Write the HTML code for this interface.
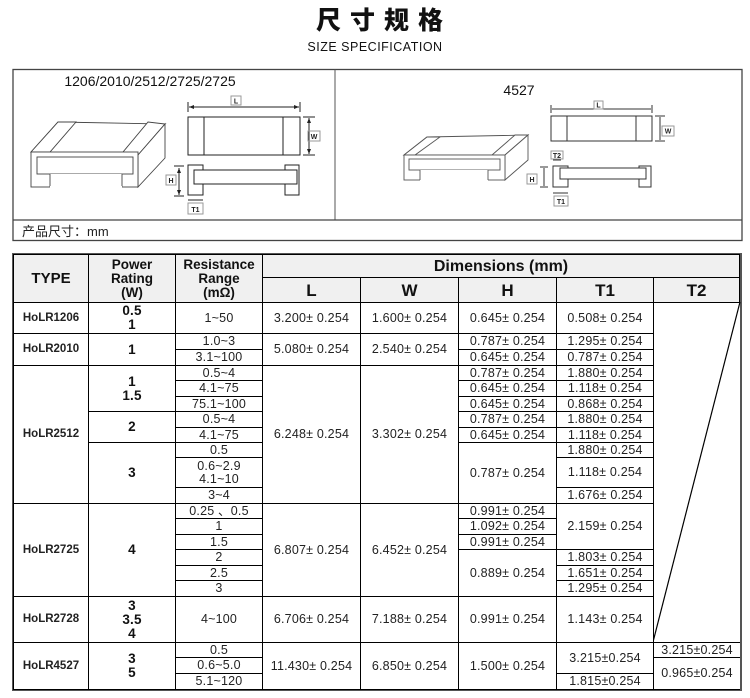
<!DOCTYPE html>
<html><head><meta charset="utf-8"><style>
body{margin:0;width:750px;height:698px;background:#fff;position:relative;overflow:hidden;font-family:"Liberation Sans","Noto Sans CJK SC",sans-serif;color:#111}
.a{position:absolute}
.c{position:absolute;box-sizing:border-box;border:1px solid #000;display:flex;align-items:center;justify-content:center;text-align:center;font-size:12.5px;line-height:13px;color:#222;background:#fff;white-space:nowrap;letter-spacing:0.2px}
.h{background:#f0f0f0;font-weight:bold;color:#111;letter-spacing:0}
.t{font-weight:bold;font-size:11.5px;color:#222;letter-spacing:0}
.p{font-weight:bold;font-size:13.5px;line-height:14px;color:#111}
</style></head><body>
<div class="a" style="left:0;width:750px;top:4px;text-align:center;font-size:25px;font-weight:900;letter-spacing:9px;font-family:'Noto Sans CJK SC',sans-serif;line-height:30px;padding-left:9px">尺寸规格</div>
<div class="a" style="left:0;width:750px;top:40px;text-align:center;font-size:12.5px;letter-spacing:0.5px">SIZE SPECIFICATION</div>

<svg class="a" style="left:0;top:0" width="750" height="250" viewBox="0 0 750 250">
<g fill="none" stroke="#333" stroke-width="1">
<rect x="13" y="69.5" width="729" height="171" stroke="#444" stroke-width="1.3"/>
<line x1="335" y1="69.5" x2="335" y2="220" stroke="#555"/>
<line x1="13" y1="220" x2="742" y2="220" stroke="#444" stroke-width="1.3"/>
</g>
<text x="150" y="86" font-size="14" text-anchor="middle" font-family="Liberation Sans" fill="#111">1206/2010/2512/2725/2725</text>
<text x="519" y="95" font-size="14" text-anchor="middle" font-family="Liberation Sans" fill="#111">4527</text>
<text x="22" y="236" font-size="13" font-family="Liberation Sans,Noto Sans CJK SC,sans-serif" fill="#222">产品尺寸：mm</text>
<g fill="#fff" stroke="#444" stroke-width="0.9">
<polygon points="31,152 58,122 165,124 160,127 137,157 36,157"/>
<polygon points="31,152 58,122 76,122 50,152"/>
<polygon points="123,152 148,122 165,124 138,155"/>
<polygon points="138,155 165,124 165,158 138,187"/>
<rect x="31" y="152" width="107" height="35"/>
<rect x="37" y="157" width="96" height="17"/>
<rect x="50" y="174" width="72" height="14" stroke="none"/>
<line x1="50" y1="174" x2="50" y2="187"/><line x1="122" y1="174" x2="122" y2="187"/>
<line x1="50" y1="187" x2="122" y2="187" stroke="#fff" stroke-width="2"/>
</g>
<g fill="none" stroke="#222" stroke-width="1">
<rect x="188" y="117" width="112" height="38"/>
<line x1="204" y1="117" x2="204" y2="155"/><line x1="283" y1="117" x2="283" y2="155"/>
<line x1="189" y1="107" x2="299" y2="107"/>
<line x1="188" y1="102" x2="188" y2="112"/><line x1="300" y1="102" x2="300" y2="112"/>
<line x1="309" y1="118" x2="309" y2="154"/>
<line x1="303" y1="117" x2="315" y2="117"/><line x1="303" y1="155" x2="315" y2="155"/>
<rect x="231" y="96" width="10" height="9" stroke="#999"/>
<rect x="308" y="131" width="12" height="10" stroke="#999"/>
<rect x="188" y="165" width="15" height="30"/><rect x="285" y="165" width="14" height="30"/>
<rect x="194" y="170" width="103" height="14" fill="#fff"/>
<line x1="179" y1="168" x2="179" y2="195"/>
<line x1="174" y1="166" x2="184" y2="166"/><line x1="174" y1="196" x2="184" y2="196"/>
<rect x="166" y="175" width="10" height="10" stroke="#999"/>
<line x1="188" y1="200" x2="203" y2="200"/>
<rect x="188" y="203" width="15" height="11" stroke="#999"/>
</g>
<g font-size="7" font-weight="bold" font-family="Liberation Sans" fill="#222" text-anchor="middle">
<text x="236" y="103.5">L</text><text x="314" y="139">W</text><text x="171" y="183">H</text><text x="195.5" y="212">T1</text>
</g>
<g fill="#222"><polygon points="189,107 194,105 194,109"/><polygon points="299,107 294,105 294,109"/>
<polygon points="309,118 307,123 311,123"/><polygon points="309,154 307,149 311,149"/>
<polygon points="179,168 177,173 181,173"/><polygon points="179,195 177,190 181,190"/></g>
<g fill="#fff" stroke="#555" stroke-width="0.9">
<polygon points="404,155 427,137 528,135 505,155"/>
<polygon points="404,155 427,137 440,137 415,155"/>
<polygon points="492,155 515,135 528,135 505,155"/>
<polygon points="505,155 528,135 528,160 505,180"/>
<rect x="404" y="155" width="101" height="25"/>
<rect x="409" y="159" width="91" height="11"/>
<rect x="420" y="170" width="68" height="11" stroke="none"/>
<line x1="420" y1="170" x2="420" y2="180"/><line x1="488" y1="170" x2="488" y2="180"/>
</g>
<g fill="none" stroke="#333" stroke-width="1">
<rect x="551" y="116" width="101" height="25"/>
<line x1="567" y1="116" x2="567" y2="141"/><line x1="636" y1="116" x2="636" y2="141"/>
<line x1="552" y1="109" x2="651" y2="109"/>
<line x1="551" y1="105" x2="551" y2="113"/><line x1="652" y1="105" x2="652" y2="113"/>
<line x1="660" y1="117" x2="660" y2="140"/>
<line x1="655" y1="116" x2="665" y2="116"/><line x1="655" y1="141" x2="665" y2="141"/>
<rect x="594" y="101" width="9" height="8" stroke="#999"/>
<rect x="662" y="126" width="12" height="10" stroke="#999"/>
<rect x="553" y="166" width="15" height="21"/><rect x="639" y="166" width="12" height="21"/>
<rect x="560" y="168" width="86" height="11" fill="#fff"/>
<line x1="544" y1="168" x2="544" y2="186"/>
<line x1="540" y1="167" x2="548" y2="167"/><line x1="540" y1="187" x2="548" y2="187"/>
<rect x="527" y="174" width="10" height="10" stroke="#999"/>
<line x1="553" y1="160" x2="561" y2="160"/>
<rect x="551" y="151" width="12" height="8" stroke="#999"/>
<line x1="553" y1="193" x2="568" y2="193"/>
<rect x="554" y="196" width="14" height="10" stroke="#999"/>
</g>
<g font-size="7" font-weight="bold" font-family="Liberation Sans" fill="#222" text-anchor="middle">
<text x="598.5" y="107.5">L</text><text x="668" y="133.5">W</text><text x="532" y="182">H</text><text x="557" y="158">T2</text><text x="561" y="204">T1</text>
</g>
</svg>

<div class="a" style="left:12px;top:253px;width:730px;height:438px;border:2px solid #555;box-sizing:border-box"></div>
<div class="c h" style="left:13px;top:254px;width:76px;height:49px;font-size:15px">TYPE</div>
<div class="c h" style="left:88px;top:254px;width:88px;height:49px;font-size:13.5px;line-height:14px">Power<br>Rating<br>(W)</div>
<div class="c h" style="left:175px;top:254px;width:88px;height:49px;font-size:13.5px;line-height:14px">Resistance<br>Range<br>(mΩ)</div>
<div class="c h" style="left:262px;top:254px;width:478px;height:24px;font-size:16px">Dimensions (mm)</div>
<div class="c h" style="left:262px;top:277px;width:99px;height:26px;font-size:17px">L</div>
<div class="c h" style="left:360px;top:277px;width:99px;height:26px;font-size:17px">W</div>
<div class="c h" style="left:458px;top:277px;width:99px;height:26px;font-size:17px">H</div>
<div class="c h" style="left:556px;top:277px;width:98px;height:26px;font-size:17px">T1</div>
<div class="c h" style="left:653px;top:277px;width:87px;height:26px;font-size:17px">T2</div>

<div class="c t" style="left:13px;top:302px;width:76px;height:32px">HoLR1206</div>
<div class="c t" style="left:13px;top:333px;width:76px;height:33px">HoLR2010</div>
<div class="c t" style="left:13px;top:365px;width:76px;height:139px">HoLR2512</div>
<div class="c t" style="left:13px;top:503px;width:76px;height:94px">HoLR2725</div>
<div class="c t" style="left:13px;top:596px;width:76px;height:47px">HoLR2728</div>
<div class="c t" style="left:13px;top:642px;width:76px;height:48px">HoLR4527</div>
<div class="c p" style="left:88px;top:302px;width:88px;height:32px">0.5<br>1</div>
<div class="c p" style="left:88px;top:333px;width:88px;height:33px">1</div>
<div class="c p" style="left:88px;top:365px;width:88px;height:47px">1<br>1.5</div>
<div class="c p" style="left:88px;top:411px;width:88px;height:32px">2</div>
<div class="c p" style="left:88px;top:442px;width:88px;height:62px">3</div>
<div class="c p" style="left:88px;top:503px;width:88px;height:94px">4</div>
<div class="c p" style="left:88px;top:596px;width:88px;height:47px">3<br>3.5<br>4</div>
<div class="c p" style="left:88px;top:642px;width:88px;height:48px">3<br>5</div>
<div class="c" style="left:175px;top:302px;width:88px;height:32px">1~50</div>
<div class="c" style="left:175px;top:333px;width:88px;height:17px">1.0~3</div>
<div class="c" style="left:175px;top:349px;width:88px;height:17px">3.1~100</div>
<div class="c" style="left:175px;top:365px;width:88px;height:16px">0.5~4</div>
<div class="c" style="left:175px;top:380px;width:88px;height:17px">4.1~75</div>
<div class="c" style="left:175px;top:396px;width:88px;height:16px">75.1~100</div>
<div class="c" style="left:175px;top:411px;width:88px;height:17px">0.5~4</div>
<div class="c" style="left:175px;top:427px;width:88px;height:16px">4.1~75</div>
<div class="c" style="left:175px;top:442px;width:88px;height:16px">0.5</div>
<div class="c" style="left:175px;top:457px;width:88px;height:31px">0.6~2.9<br>4.1~10</div>
<div class="c" style="left:175px;top:487px;width:88px;height:17px">3~4</div>
<div class="c" style="left:175px;top:503px;width:88px;height:16px">0.25 、0.5</div>
<div class="c" style="left:175px;top:518px;width:88px;height:17px">1</div>
<div class="c" style="left:175px;top:534px;width:88px;height:16px">1.5</div>
<div class="c" style="left:175px;top:549px;width:88px;height:17px">2</div>
<div class="c" style="left:175px;top:565px;width:88px;height:16px">2.5</div>
<div class="c" style="left:175px;top:580px;width:88px;height:17px">3</div>
<div class="c" style="left:175px;top:596px;width:88px;height:47px">4~100</div>
<div class="c" style="left:175px;top:642px;width:88px;height:16px">0.5</div>
<div class="c" style="left:175px;top:657px;width:88px;height:17px">0.6~5.0</div>
<div class="c" style="left:175px;top:673px;width:88px;height:17px">5.1~120</div>
<div class="c" style="left:262px;top:302px;width:99px;height:32px">3.200± 0.254</div>
<div class="c" style="left:262px;top:333px;width:99px;height:33px">5.080± 0.254</div>
<div class="c" style="left:262px;top:365px;width:99px;height:139px">6.248± 0.254</div>
<div class="c" style="left:262px;top:503px;width:99px;height:94px">6.807± 0.254</div>
<div class="c" style="left:262px;top:596px;width:99px;height:47px">6.706± 0.254</div>
<div class="c" style="left:262px;top:642px;width:99px;height:48px">11.430± 0.254</div>
<div class="c" style="left:360px;top:302px;width:99px;height:32px">1.600± 0.254</div>
<div class="c" style="left:360px;top:333px;width:99px;height:33px">2.540± 0.254</div>
<div class="c" style="left:360px;top:365px;width:99px;height:139px">3.302± 0.254</div>
<div class="c" style="left:360px;top:503px;width:99px;height:94px">6.452± 0.254</div>
<div class="c" style="left:360px;top:596px;width:99px;height:47px">7.188± 0.254</div>
<div class="c" style="left:360px;top:642px;width:99px;height:48px">6.850± 0.254</div>
<div class="c" style="left:458px;top:302px;width:99px;height:32px">0.645± 0.254</div>
<div class="c" style="left:458px;top:333px;width:99px;height:17px">0.787± 0.254</div>
<div class="c" style="left:458px;top:349px;width:99px;height:17px">0.645± 0.254</div>
<div class="c" style="left:458px;top:365px;width:99px;height:16px">0.787± 0.254</div>
<div class="c" style="left:458px;top:380px;width:99px;height:17px">0.645± 0.254</div>
<div class="c" style="left:458px;top:396px;width:99px;height:16px">0.645± 0.254</div>
<div class="c" style="left:458px;top:411px;width:99px;height:17px">0.787± 0.254</div>
<div class="c" style="left:458px;top:427px;width:99px;height:16px">0.645± 0.254</div>
<div class="c" style="left:458px;top:442px;width:99px;height:62px">0.787± 0.254</div>
<div class="c" style="left:458px;top:503px;width:99px;height:16px">0.991± 0.254</div>
<div class="c" style="left:458px;top:518px;width:99px;height:17px">1.092± 0.254</div>
<div class="c" style="left:458px;top:534px;width:99px;height:16px">0.991± 0.254</div>
<div class="c" style="left:458px;top:549px;width:99px;height:48px">0.889± 0.254</div>
<div class="c" style="left:458px;top:596px;width:99px;height:47px">0.991± 0.254</div>
<div class="c" style="left:458px;top:642px;width:99px;height:48px">1.500± 0.254</div>
<div class="c" style="left:556px;top:302px;width:98px;height:32px">0.508± 0.254</div>
<div class="c" style="left:556px;top:333px;width:98px;height:17px">1.295± 0.254</div>
<div class="c" style="left:556px;top:349px;width:98px;height:17px">0.787± 0.254</div>
<div class="c" style="left:556px;top:365px;width:98px;height:16px">1.880± 0.254</div>
<div class="c" style="left:556px;top:380px;width:98px;height:17px">1.118± 0.254</div>
<div class="c" style="left:556px;top:396px;width:98px;height:16px">0.868± 0.254</div>
<div class="c" style="left:556px;top:411px;width:98px;height:17px">1.880± 0.254</div>
<div class="c" style="left:556px;top:427px;width:98px;height:16px">1.118± 0.254</div>
<div class="c" style="left:556px;top:442px;width:98px;height:16px">1.880± 0.254</div>
<div class="c" style="left:556px;top:457px;width:98px;height:31px">1.118± 0.254</div>
<div class="c" style="left:556px;top:487px;width:98px;height:17px">1.676± 0.254</div>
<div class="c" style="left:556px;top:503px;width:98px;height:47px">2.159± 0.254</div>
<div class="c" style="left:556px;top:549px;width:98px;height:17px">1.803± 0.254</div>
<div class="c" style="left:556px;top:565px;width:98px;height:16px">1.651± 0.254</div>
<div class="c" style="left:556px;top:580px;width:98px;height:17px">1.295± 0.254</div>
<div class="c" style="left:556px;top:596px;width:98px;height:47px">1.143± 0.254</div>
<div class="c" style="left:556px;top:642px;width:98px;height:32px">3.215±0.254</div>
<div class="c" style="left:556px;top:673px;width:98px;height:17px">1.815±0.254</div>
<svg class="a" style="left:653px;top:302px" width="88" height="341"><line x1="87" y1="0" x2="0" y2="340" stroke="#000" stroke-width="1.2"/></svg>
<div class="c" style="left:653px;top:642px;width:87px;height:16px;border-right:none">3.215±0.254</div>
<div class="c" style="left:653px;top:657px;width:87px;height:33px;border-right:none">0.965±0.254</div>
</body></html>
